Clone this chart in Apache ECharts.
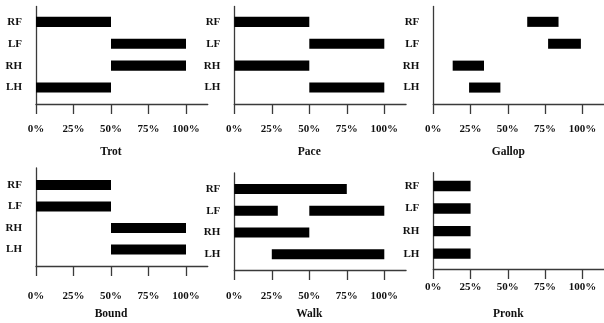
<!DOCTYPE html>
<html>
<head>
<meta charset="utf-8">
<script src="https://cdn.jsdelivr.net/npm/echarts@6/dist/echarts.min.js"></script>
<style>
html,body{margin:0;padding:0;background:#fff;}
#c{width:604px;height:323px;}
</style>
</head>
<body>
<div id="c"></div>
<script>
// ---- data ----
const limbs = ['RF', 'LF', 'RH', 'LH'];
const gaitNames = ['Trot', 'Pace', 'Gallop', 'Bound', 'Walk', 'Pronk'];
const xTickValues = [0, 25, 50, 75, 100];
// each entry: [limb index, start %, end %]
const trot   = [[0, 0, 50], [1, 50, 100], [2, 50, 100], [3, 0, 50]];
const pace   = [[0, 0, 50], [1, 50, 100], [2, 0, 50], [3, 50, 100]];
const gallop = [[0, 63, 84], [1, 77, 99], [2, 13, 34], [3, 24, 45]];
const bound  = [[0, 0, 50], [1, 0, 50], [2, 50, 100], [3, 50, 100]];
const walk   = [[0, 0, 75], [1, 0, 29], [1, 50, 100], [2, 0, 50], [3, 25, 100]];
const pronk  = [[0, 0, 25], [1, 0, 25], [2, 0, 25], [3, 0, 25]];
const gaitData = [trot, pace, gallop, bound, walk, pronk];

// ---- layout ----
const FONT = '"Liberation Serif", "Times New Roman", serif';
const panels = [
  {left: 36,    top: 6.5, bottom: 104, yMin: -0.70, yMax: 3.75, labMargin: 20, titleTop: 146},
  {left: 234.3, top: 6.5, bottom: 104, yMin: -0.70, yMax: 3.75, labMargin: 20, titleTop: 146},
  {left: 433.3, top: 6.5, bottom: 104, yMin: -0.70, yMax: 3.75, labMargin: 20, titleTop: 146},
  {left: 36,    top: 168, bottom: 266, yMin: -0.79, yMax: 3.77, labMargin: 25, titleTop: 308},
  {left: 234.3, top: 173, bottom: 270, yMin: -0.73, yMax: 3.72, labMargin: 21, titleTop: 308},
  {left: 433.3, top: 172.7, bottom: 269, yMin: -0.59, yMax: 3.68, labMargin: 13, titleTop: 308}
];
const pxPer100 = 150;
const xMax = 114.5;

const grids = [], xAxes = [], yAxes = [], series = [], titles = [];
panels.forEach((p, i) => {
  grids.push({
    left: p.left, top: p.top,
    width: pxPer100 * xMax / 100,
    height: p.bottom - p.top,
    containLabel: false
  });
  xAxes.push({
    gridIndex: i, type: 'value', min: 0, max: xMax, position: 'bottom',
    axisLine: {show: true, onZero: false, lineStyle: {color: '#3a3a3a', width: 1.3}},
    axisTick: {show: true, length: 10, lineStyle: {color: '#3a3a3a', width: 1.3}, customValues: xTickValues},
    axisLabel: {
      customValues: xTickValues, margin: p.labMargin,
      formatter: v => v + '%',
      fontFamily: FONT, fontWeight: 'bold', fontSize: 11, color: '#111'
    },
    splitLine: {show: false}
  });
  yAxes.push({
    gridIndex: i, type: 'value', inverse: true, min: p.yMin, max: p.yMax, position: 'left',
    axisLine: {show: true, onZero: false, lineStyle: {color: '#3a3a3a', width: 1.3}},
    axisTick: {show: false},
    axisLabel: {
      customValues: [0, 1, 2, 3], margin: 14,
      formatter: v => limbs[Math.round(v)] || '',
      fontFamily: FONT, fontWeight: 'bold', fontSize: 11, color: '#111'
    },
    splitLine: {show: false}
  });
  titles.push({
    text: gaitNames[i],
    left: p.left + pxPer100 / 2,
    top: p.titleTop,
    textAlign: 'center',
    padding: 0,
    textStyle: {fontFamily: FONT, fontWeight: 'bold', fontSize: 11.5, color: '#111'}
  });
  series.push({
    type: 'custom',
    xAxisIndex: i, yAxisIndex: i,
    encode: {x: [1, 2], y: 0},
    data: gaitData[i],
    renderItem: function (params, api) {
      const y = api.value(0);
      const s = api.coord([api.value(1), y]);
      const e = api.coord([api.value(2), y]);
      const h = api.size([0, 1])[1] * 0.46;
      return {
        type: 'rect',
        shape: {x: s[0], y: s[1] - h / 2, width: e[0] - s[0], height: h},
        style: {fill: '#000'}
      };
    }
  });
});

const chart = echarts.init(document.getElementById('c'), null, {renderer: 'canvas'});
chart.setOption({
  animation: false,
  backgroundColor: '#fff',
  title: titles,
  grid: grids,
  xAxis: xAxes,
  yAxis: yAxes,
  series: series
});
</script>
</body>
</html>
